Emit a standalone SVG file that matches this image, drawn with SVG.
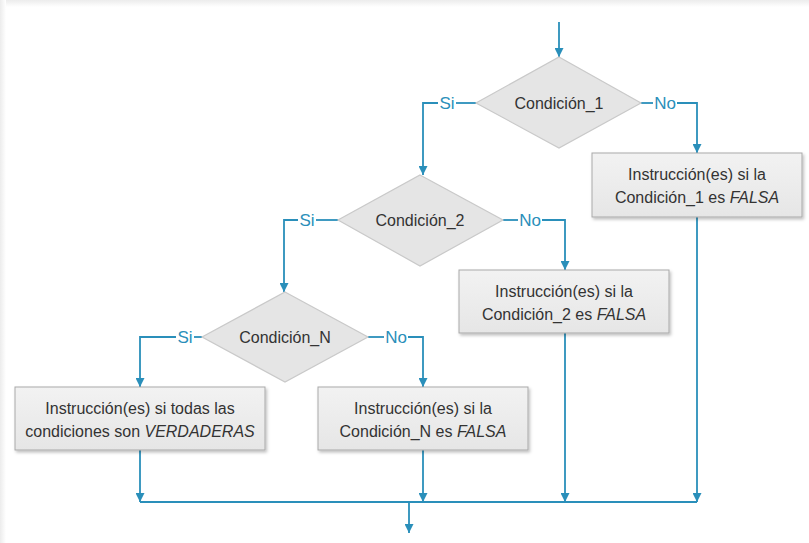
<svg xmlns="http://www.w3.org/2000/svg" width="809" height="543" viewBox="0 0 809 543">
<defs>
<linearGradient id="topShade" x1="0" y1="0" x2="0" y2="1"><stop offset="0" stop-color="#ececec"/><stop offset="1" stop-color="#ffffff"/></linearGradient>
<linearGradient id="leftShade" x1="0" y1="0" x2="1" y2="0"><stop offset="0" stop-color="#ececec"/><stop offset="1" stop-color="#ffffff"/></linearGradient>
<linearGradient id="boxFill" x1="0" y1="0" x2="0" y2="1"><stop offset="0" stop-color="#f2f2f2"/><stop offset="1" stop-color="#e6e6e6"/></linearGradient>
<filter id="shadow" x="-5%" y="-10%" width="115%" height="130%"><feDropShadow dx="1.5" dy="2" stdDeviation="1.5" flood-color="#000" flood-opacity="0.25"/></filter>
<marker id="arr" viewBox="0 0 10 10" refX="10" refY="5" markerWidth="9" markerHeight="9" markerUnits="userSpaceOnUse" orient="auto"><path d="M0,0 L10,5 L0,10 z" fill="#2a8fba"/></marker>
</defs>
<style>
.dia{fill:#e5e5e5;stroke:#c9c9c9;stroke-width:1.2}
.box{fill:url(#boxFill);stroke:#a9a9a9;stroke-width:1;filter:url(#shadow)}
.t{font-family:"Liberation Sans",Arial,sans-serif;font-size:16px;fill:#333;text-anchor:middle}
.lbl{font-family:"Liberation Sans",Arial,sans-serif;font-size:17px;fill:#2a8fba;text-anchor:middle}
.c{fill:none;stroke:#2a8fba;stroke-width:1.8}
.a{marker-end:url(#arr)}
</style>
<rect x="0" y="0" width="809" height="543" fill="#fff"/>
<rect x="0" y="0" width="809" height="7" fill="url(#topShade)"/>
<rect x="0" y="0" width="6" height="543" fill="url(#leftShade)"/>

<g id="connectors">
<path class="c a" d="M559,22 V57"/>
<path class="c" d="M476,103 H456"/>
<path class="c a" d="M438,103 H423 V175"/>
<path class="c" d="M641,103 H653"/>
<path class="c a" d="M677,103 H697 V153"/>
<path class="c" d="M338,220 H316"/>
<path class="c a" d="M298,220 H284 V292"/>
<path class="c" d="M503,220 H518"/>
<path class="c a" d="M542,220 H565 V270"/>
<path class="c" d="M202,337 H194"/>
<path class="c a" d="M176,337 H140 V387"/>
<path class="c" d="M368,337 H384"/>
<path class="c a" d="M408,337 H423 V387"/>
<path class="c a" d="M140,450 V502"/>
<path class="c a" d="M423,450 V502"/>
<path class="c a" d="M565,333 V502"/>
<path class="c a" d="M697,217 V502"/>
<path class="c" d="M140,502 H697"/>
<path class="c a" d="M409,502 V533"/>
<text class="lbl" x="447" y="109">Si</text>
<text class="lbl" x="665" y="109">No</text>
<text class="lbl" x="307" y="226">Si</text>
<text class="lbl" x="530" y="226">No</text>
<text class="lbl" x="185" y="343">Si</text>
<text class="lbl" x="396" y="343">No</text>
</g>

<g id="cond1">
<polygon class="dia" points="559,57 641,103 559,148 476,103"/>
<text class="t" x="559" y="109">Condición_1</text>
</g>
<g id="false1">
<rect class="box" x="592" y="153" width="210" height="64"/>
<text class="t" x="697" y="180">Instrucción(es) si la</text>
<text class="t" x="697" y="203">Condición_1 es <tspan font-style="italic">FALSA</tspan></text>
</g>
<g id="cond2">
<polygon class="dia" points="420,175 503,220 420,266 338,220"/>
<text class="t" x="420" y="226">Condición_2</text>
</g>
<g id="false2">
<rect class="box" x="459" y="270" width="210" height="63"/>
<text class="t" x="564" y="297">Instrucción(es) si la</text>
<text class="t" x="564" y="320">Condición_2 es <tspan font-style="italic">FALSA</tspan></text>
</g>
<g id="condN">
<polygon class="dia" points="285,292 368,337 285,382 202,337"/>
<text class="t" x="285" y="343">Condición_N</text>
</g>
<g id="trueAll">
<rect class="box" x="15" y="387" width="250" height="63"/>
<text class="t" x="140" y="414">Instrucción(es) si todas las</text>
<text class="t" x="140" y="437">condiciones son <tspan font-style="italic">VERDADERAS</tspan></text>
</g>
<g id="falseN">
<rect class="box" x="318" y="387" width="210" height="63"/>
<text class="t" x="423" y="414">Instrucción(es) si la</text>
<text class="t" x="423" y="437">Condición_N es <tspan font-style="italic">FALSA</tspan></text>
</g>
</svg>
